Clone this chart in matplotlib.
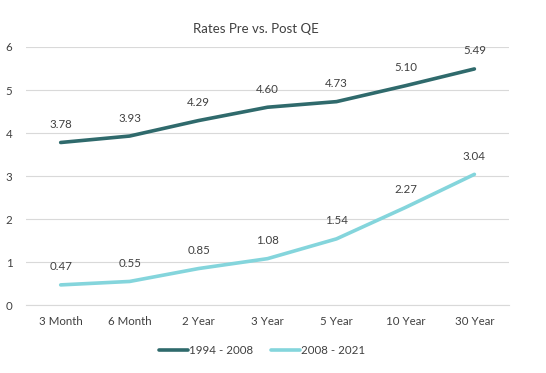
import matplotlib
matplotlib.use("Agg")
import matplotlib.pyplot as plt

categories = ["3 Month", "6 Month", "2 Year", "3 Year", "5 Year", "10 Year", "30 Year"]
pre_qe = [3.78, 3.93, 4.29, 4.60, 4.73, 5.10, 5.49]
post_qe = [0.47, 0.55, 0.85, 1.08, 1.54, 2.27, 3.04]
series_names = ["1994 - 2008", "2008 - 2021"]
colors = ["#2F6A6C", "#84D5DC"]

plt.rcParams['font.family'] = ['Lato', 'DejaVu Sans']
fig = plt.figure(figsize=(5.46, 3.73), dpi=100)
ax = fig.add_axes([0.048, 0.182, 0.884, 0.692])
x = range(len(categories))
for vals, name, c in zip([pre_qe, post_qe], series_names, colors):
    ax.plot(x, vals, color=c, lw=2.6, label=name, solid_capstyle='round')
    for xi, v in zip(x, vals):
        ax.annotate(f"{v:.2f}", (xi, v), xytext=(0, 9), textcoords='offset points',
                    ha='center', va='bottom', fontsize=8.3, color='#404040')
ax.set_xlim(-0.5, len(categories) - 0.5)
ax.set_ylim(0, 6)
ax.set_yticks(range(0, 7))
ax.set_xticks(list(x))
ax.set_xticklabels(categories)
ax.grid(axis='y', color='#D9D9D9', lw=0.8)
ax.set_axisbelow(True)
for s in ['top', 'right', 'left']:
    ax.spines[s].set_visible(False)
ax.spines['bottom'].set_color('#D9D9D9')
ax.tick_params(length=0, labelsize=8.3, colors='#404040', pad=8)
ax.tick_params(axis='y', pad=10)
ax.set_title("Rates Pre vs. Post QE", fontsize=9.5, color='#404040', pad=10, x=0.475)
fig.legend(loc='center', bbox_to_anchor=(0.48, 0.06), ncol=2, frameon=False,
           fontsize=8.3, labelcolor='#404040', handlelength=2.5, handletextpad=0.1, columnspacing=1.5)
fig.savefig("out.png", dpi=100)
